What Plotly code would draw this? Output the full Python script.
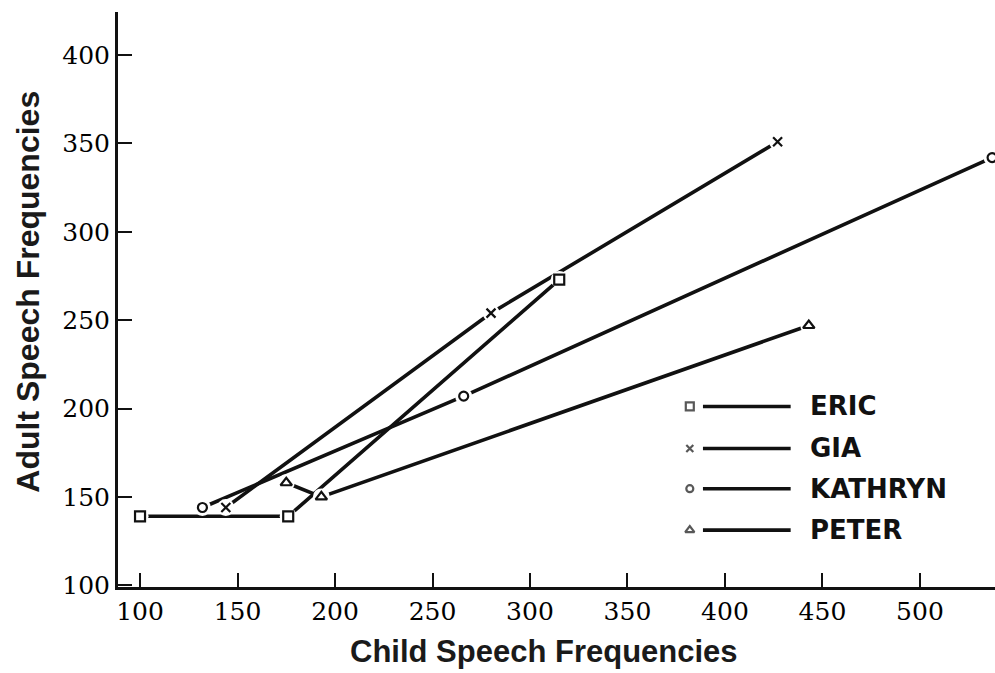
import plotly.graph_objects as go

# ---- data ----
names = ["ERIC", "GIA", "KATHRYN", "PETER"]
eric_x = [100, 176, 315]
eric_y = [139, 139, 273]
gia_x = [144, 280, 427]
gia_y = [144, 254, 351]
kathryn_x = [132, 266, 537]
kathryn_y = [144, 207, 342]
peter_x = [175, 193, 443]
peter_y = [158, 150, 247]

x_ticks = [100, 150, 200, 250, 300, 350, 400, 450, 500]
y_ticks = [100, 150, 200, 250, 300, 350, 400]

series_x = [eric_x, gia_x, kathryn_x, peter_x]
series_y = [eric_y, gia_y, kathryn_y, peter_y]
symbols = ["square-open", "x-thin-open", "circle-open", "triangle-up-open"]
sizes = [10, 9, 9, 10]

INK = "#111111"
fig = go.Figure()

# lines
for sx, sy, n in zip(series_x, series_y, names):
    fig.add_trace(go.Scatter(x=sx, y=sy, mode="lines", name=n, showlegend=False,
                             line=dict(color=INK, width=3.6)))
# white halos around points (gaps like the original)
for sx, sy in zip(series_x, series_y):
    fig.add_trace(go.Scatter(x=sx, y=sy, mode="markers", showlegend=False, hoverinfo="skip",
                             marker=dict(symbol="circle", size=17, color="white")))
# markers
for sx, sy, s, sz, n in zip(series_x, series_y, symbols, sizes, names):
    fig.add_trace(go.Scatter(x=sx, y=sy, mode="markers", name=n, showlegend=False,
                             marker=dict(symbol=s, size=sz, color=INK, line=dict(color=INK, width=2.2))))

# ---- custom legend (paper-like overlay axis) ----
leg_rows = [0.314, 0.241, 0.171, 0.099]
leg_mx = 0.652
fig.add_trace(go.Scatter(x=[leg_mx] * 4, y=leg_rows, xaxis="x2", yaxis="y2", mode="markers",
                         showlegend=False, hoverinfo="skip",
                         marker=dict(symbol=symbols, size=[8, 7, 7, 8], color=INK,
                                     line=dict(color=INK, width=2.2))))
for ry, n in zip(leg_rows, names):
    fig.add_shape(type="line", xref="paper", yref="paper", x0=0.667, x1=0.767, y0=ry, y1=ry,
                  line=dict(color=INK, width=3.6))
    fig.add_annotation(x=0.787, y=ry, xref="paper", yref="paper", text="<b>" + n + "</b>",
                       showarrow=False, xanchor="left", yanchor="middle",
                       font=dict(family="DejaVu Sans", size=26, color=INK))

tickfont = dict(family="DejaVu Serif", size=25, color="#000000")
fig.update_layout(
    width=995, height=673,
    margin=dict(l=118, r=0, t=12, b=86),
    paper_bgcolor="white", plot_bgcolor="white",
    xaxis=dict(range=[88.7, 538.5], tickvals=x_ticks, ticks="inside", ticklen=14, tickwidth=2.2,
               tickcolor=INK, showline=True, linewidth=3, linecolor=INK, showgrid=False,
               zeroline=False, tickfont=tickfont),
    yaxis=dict(range=[99, 424.4], tickvals=y_ticks, ticks="inside", ticklen=14, tickwidth=2.2,
               tickcolor=INK, showline=True, linewidth=3, linecolor=INK, showgrid=False,
               zeroline=False, tickfont=tickfont),
    xaxis2=dict(range=[0, 1], overlaying="x", visible=False),
    yaxis2=dict(range=[0, 1], overlaying="y", visible=False),
    showlegend=False,
)
fig.add_annotation(x=0.486, y=-0.112, xref="paper", yref="paper",
                   text="<b>Child Speech Frequencies</b>", showarrow=False,
                   xanchor="center", yanchor="middle",
                   font=dict(family="Liberation Sans", size=31, color="#1a1a1a"))
fig.add_annotation(x=-0.103, y=0.513, xref="paper", yref="paper",
                   text="<b>Adult Speech Frequencies</b>", showarrow=False, textangle=-90,
                   xanchor="center", yanchor="middle",
                   font=dict(family="Liberation Sans", size=32, color="#1a1a1a"))

fig.write_html("out.html")
